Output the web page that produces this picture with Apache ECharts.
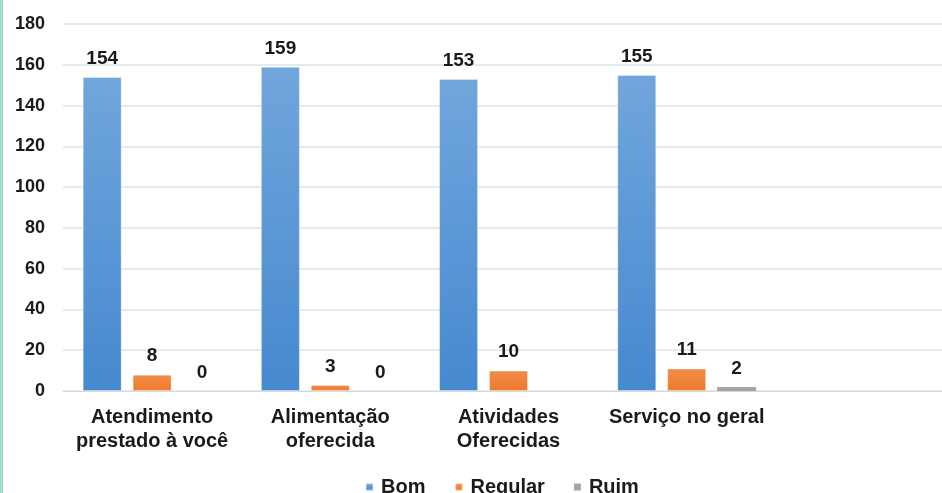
<!DOCTYPE html>
<html>
<head>
<meta charset="utf-8">
<script src="https://cdn.jsdelivr.net/npm/echarts@6/dist/echarts.min.js"></script>
<style>
    html, body { margin: 0; padding: 0; background: #fff; overflow: hidden; width: 942px; height: 493px; }
    #chart { position: absolute; left: 0; top: 0; width: 960px; height: 493px; }
    #strip { position: absolute; left: 0; top: 0; width: 3px; height: 493px; background: #a9dcc7; }
</style>
</head>
<body>
<div id="chart"></div>
<div id="strip"></div>
<script>
// categorias (a última fica vazia, o gráfico original está cortado à direita)
const categories = ['Atendimento\nprestado à você', 'Alimentação\noferecida', 'Atividades\nOferecidas', 'Serviço no geral', ''];

// valores por série
const bomValues = [154, 159, 153, 155, '-'];
const regularValues = [8, 3, 10, 11, '-'];
const ruimValues = [0, 0, '-', 2, '-'];

// eixo y
const yMin = 0;
const yMax = 180;
const yStep = 20;

const chart = echarts.init(document.getElementById('chart'));

const labelStyle = {
    show: true,
    position: 'top',
    distance: 9,
    color: '#1a1a1a',
    fontFamily: 'Liberation Sans, Arial',
    fontSize: 19,
    fontWeight: 'bold'
};

function gradient(top, bottom) {
    return new echarts.graphic.LinearGradient(0, 0, 0, 1, [
        { offset: 0, color: top },
        { offset: 1, color: bottom }
    ]);
}

const option = {
    animation: false,
    grid: {
        left: 63,
        right: 6,
        top: 24,
        bottom: 102
    },
    legend: {
        left: 360,
        top: 472,
        itemWidth: 7,
        itemHeight: 7,
        itemGap: 29,
        icon: 'rect',
        textStyle: {
            color: '#1a1a1a',
            fontFamily: 'Liberation Sans, Arial',
            fontSize: 20,
            fontWeight: 'bold',
            padding: [0, 0, 0, 3]
        },
        data: ['Bom', 'Regular', 'Ruim']
    },
    xAxis: {
        type: 'category',
        data: categories,
        axisLine: { lineStyle: { color: '#d9d9d9' } },
        axisTick: { show: false },
        axisLabel: {
            color: '#1a1a1a',
            fontFamily: 'Liberation Sans, Arial',
            fontSize: 20,
            fontWeight: 'bold',
            lineHeight: 24,
            margin: 14,
            interval: 0
        }
    },
    yAxis: {
        type: 'value',
        min: yMin,
        max: yMax,
        interval: yStep,
        axisLine: { show: false },
        axisTick: { show: false },
        splitLine: { lineStyle: { color: '#dde3ea', width: 1.5 } },
        axisLabel: {
            color: '#1a1a1a',
            fontFamily: 'Liberation Sans, Arial',
            fontSize: 18,
            fontWeight: 'bold',
            margin: 18
        }
    },
    series: [
        {
            name: 'Bom',
            type: 'bar',
            data: bomValues,
            barWidth: 39,
            barGap: '28%',
            itemStyle: {
                color: gradient('#71a6dc', '#4689cf'),
                borderColor: 'rgba(255,255,255,0.35)',
                borderWidth: 1
            },
            label: labelStyle
        },
        {
            name: 'Regular',
            type: 'bar',
            data: regularValues,
            barWidth: 39,
            barGap: '28%',
            itemStyle: {
                color: gradient('#f28c4a', '#ee7a2c'),
                borderColor: 'rgba(255,255,255,0.35)',
                borderWidth: 1
            },
            label: labelStyle
        },
        {
            name: 'Ruim',
            type: 'bar',
            data: ruimValues,
            barWidth: 39,
            barGap: '28%',
            itemStyle: {
                color: '#a5a5a5'
            },
            label: labelStyle
        }
    ]
};

chart.setOption(option);
</script>
</body>
</html>
